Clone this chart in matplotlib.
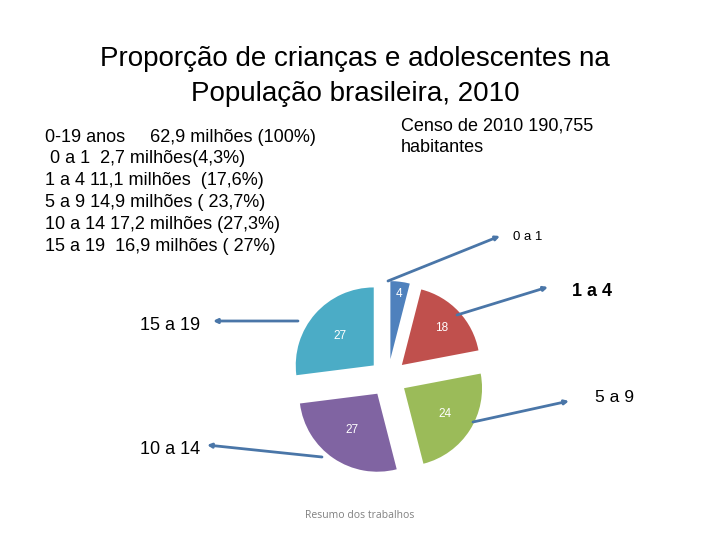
import matplotlib
matplotlib.use("Agg")
import matplotlib.pyplot as plt
import numpy as np

plt.rcParams["font.family"] = ["Liberation Sans", "DejaVu Sans"]

# dados do gráfico (censo 2010, em %)
faixas = ["0 a 1", "1 a 4", "5 a 9", "10 a 14", "15 a 19"]
valores = [4, 18, 24, 27, 27]
cores = ["#4F81BD", "#C0504D", "#9BBB59", "#8064A2", "#4BACC6"]

titulo = ["Proporção de crianças e adolescentes na", "População brasileira, 2010"]
censo = ["Censo de 2010 190,755", "habitantes"]
resumo = [
    "0-19 anos     62,9 milhões (100%)",
    " 0 a 1  2,7 milhões(4,3%)",
    "1 a 4 11,1 milhões  (17,6%)",
    "5 a 9 14,9 milhões ( 23,7%)",
    "10 a 14 17,2 milhões (27,3%)",
    "15 a 19  16,9 milhões ( 27%)",
]
rodape = "Resumo dos trabalhos"

W, H = 720, 540


def Y(py):
    # coordenada de pixel (origem no topo) -> dados (origem embaixo)
    return H - py


fig = plt.figure(figsize=(7.2, 5.4), dpi=100)
ax = fig.add_axes([0, 0, 1, 1])

# explode do pie é em unidades de dados (não relativo ao raio)
cx, cy, r = 388, Y(378), 78
wedges, _ = ax.pie(
    valores, colors=cores, startangle=90, counterclock=False,
    radius=r, center=(cx, cy), explode=[19] * len(valores),
    frame=True, wedgeprops=dict(linewidth=0),
)

# rótulos dos valores dentro das fatias
dist_rot = [0.84, 0.70, 0.62, 0.57, 0.58]
for w, v, d in zip(wedges, valores, dist_rot):
    ang = np.deg2rad((w.theta1 + w.theta2) / 2)
    x0, y0 = w.center
    ax.text(x0 + r * d * np.cos(ang), y0 + r * d * np.sin(ang), str(v),
            color="white", fontsize=8.5, ha="center", va="center")

# linhas de chamada: (ponto na fatia, ponta perto do rótulo, pos. do texto, tamanho, peso)
chamadas = [
    ((388, 281), (500, 236), (513, 237), 9.5, "normal"),
    ((457, 315), (548, 287), (572, 292), 13, "bold"),
    ((473, 422), (569, 401), (595, 398), 12.5, "normal"),
    ((322, 457), (207, 445), (140, 449), 13, "normal"),
    ((298, 321), (213, 321), (140, 325), 13, "normal"),
]
cor_linha = "#4A76A8"
for nome, (p0, p1, pt, fs, fw) in zip(faixas, chamadas):
    ax.annotate("", xy=(p1[0], Y(p1[1])), xytext=(p0[0], Y(p0[1])),
                arrowprops=dict(arrowstyle="-|>", color=cor_linha, lw=2,
                                mutation_scale=6, shrinkA=0, shrinkB=0))
    ax.text(pt[0], Y(pt[1]), nome, fontsize=fs, fontweight=fw,
            ha="left", va="center")

for i, linha in enumerate(titulo):
    ax.text(355, Y(59 + 35 * i), linha, fontsize=20, ha="center", va="center")

for i, linha in enumerate(censo):
    ax.text(401, Y(126 + 22 * i), linha, fontsize=13, va="center")

for i, linha in enumerate(resumo):
    ax.text(45, Y(137 + 21.9 * i), linha, fontsize=13, va="center")

ax.text(360, Y(515), rodape, fontsize=7.5, color="#808080", ha="center",
        va="center", family=["Open Sans", "DejaVu Sans"])

ax.set_xlim(0, W)
ax.set_ylim(0, H)
ax.set_aspect("equal")
ax.axis("off")

fig.savefig("out.png", dpi=100, facecolor="white")
